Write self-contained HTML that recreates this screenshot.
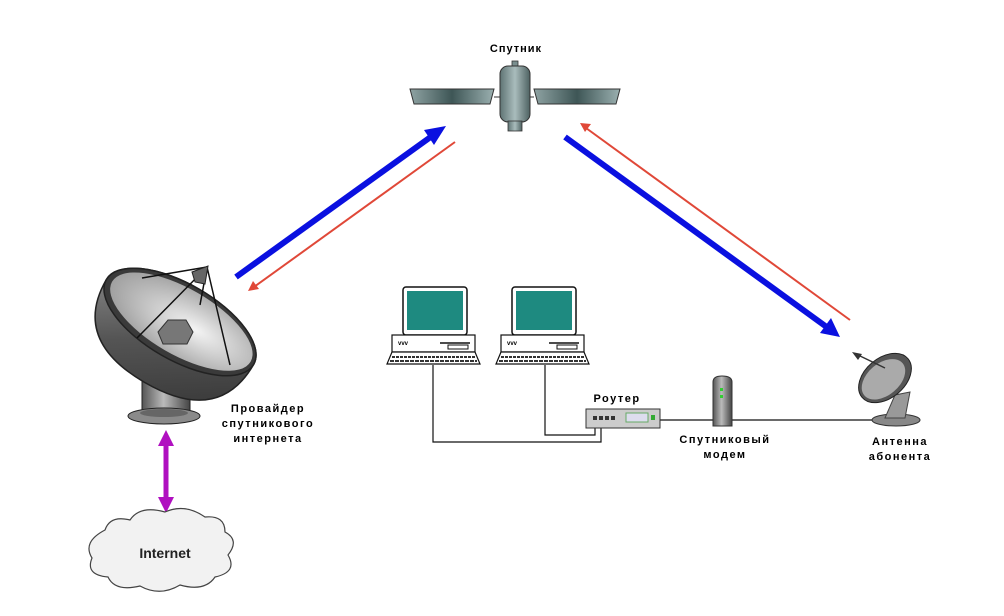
<!DOCTYPE html>
<html><head><meta charset="utf-8"><style>
html,body{margin:0;padding:0;background:#fff;}
svg{display:block;}
text{font-family:"Liberation Sans","DejaVu Sans",sans-serif;font-weight:bold;}
</style></head><body>
<svg width="1004" height="616" viewBox="0 0 1004 616" xmlns="http://www.w3.org/2000/svg">
<defs>
<linearGradient id="pan" x1="0" y1="0" x2="1" y2="0">
<stop offset="0" stop-color="#8fa3a3"/><stop offset="0.5" stop-color="#3e5656"/><stop offset="1" stop-color="#9bb0b0"/></linearGradient>
<linearGradient id="body" x1="0" y1="0" x2="1" y2="0">
<stop offset="0" stop-color="#5f7474"/><stop offset="0.5" stop-color="#a9bcbc"/><stop offset="1" stop-color="#4e6262"/></linearGradient>
<linearGradient id="metal" x1="0" y1="0" x2="1" y2="0">
<stop offset="0" stop-color="#555"/><stop offset="0.45" stop-color="#bbb"/><stop offset="1" stop-color="#444"/></linearGradient>
<linearGradient id="shell" x1="0" y1="0" x2="1" y2="1">
<stop offset="0" stop-color="#999"/><stop offset="0.5" stop-color="#555"/><stop offset="1" stop-color="#333"/></linearGradient>
<radialGradient id="dishin" cx="0.6" cy="0.5" r="0.6">
<stop offset="0" stop-color="#f4f4f4"/><stop offset="1" stop-color="#a0a0a0"/></radialGradient>
</defs>

<!-- Satellite -->
<text x="516" y="52" font-size="11" text-anchor="middle" letter-spacing="1">Спутник</text>
<polygon points="410,89 494,89 490,104 414,104" fill="url(#pan)" stroke="#333" stroke-width="1"/>
<polygon points="534,89 620,89 616,104 538,104" fill="url(#pan)" stroke="#333" stroke-width="1"/>
<line x1="494" y1="97" x2="500" y2="97" stroke="#333"/>
<line x1="528" y1="97" x2="534" y2="97" stroke="#333"/>
<rect x="512" y="61" width="6" height="6" fill="#7a8f8f" stroke="#333" stroke-width="0.8"/>
<rect x="500" y="66" width="30" height="56" rx="8" fill="url(#body)" stroke="#333"/>
<rect x="508" y="121" width="14" height="10" fill="url(#body)" stroke="#333" stroke-width="0.8"/>

<!-- Left arrows -->
<line x1="236" y1="277" x2="432" y2="136" stroke="#0a10e0" stroke-width="6"/>
<polygon points="446,126 424,130 434,145" fill="#0a10e0"/>
<line x1="455" y1="142" x2="254" y2="287" stroke="#e04838" stroke-width="2"/>
<polygon points="248,291 253,281 259,289" fill="#e04838"/>

<!-- Right arrows -->
<line x1="565" y1="137" x2="828" y2="328" stroke="#0a10e0" stroke-width="6"/>
<polygon points="840,337 820,333 831,318" fill="#0a10e0"/>
<line x1="850" y1="320" x2="586" y2="128" stroke="#e04838" stroke-width="2"/>
<polygon points="580,123 591,124 585,132" fill="#e04838"/>

<!-- Big dish -->
<rect x="142" y="372" width="48" height="42" fill="url(#metal)" stroke="#222"/>
<ellipse cx="164" cy="416" rx="36" ry="8" fill="#8a8a8a" stroke="#222"/>
<ellipse cx="164" cy="413" rx="24" ry="4" fill="#666"/>
<g transform="rotate(30 180 322)">
<path d="M95,322 A85,38 0 0 1 265,322 Q265,392 180,392 Q95,392 95,322 Z" fill="url(#shell)" stroke="#222" stroke-width="1.5"/>
<ellipse cx="180" cy="322" rx="85" ry="38" fill="#3a3a3a" stroke="#222" stroke-width="1.5"/>
<ellipse cx="181" cy="321" rx="80" ry="33" fill="url(#dishin)"/>
</g>
<polygon points="158,332 168,320 186,320 193,332 187,344 163,344" fill="#777" stroke="#333"/>
<line x1="207" y1="267" x2="137" y2="338" stroke="#111" stroke-width="1.5"/>
<line x1="207" y1="267" x2="230" y2="365" stroke="#111" stroke-width="1.5"/>
<line x1="207" y1="267" x2="142" y2="278" stroke="#111" stroke-width="1.5"/>
<line x1="207" y1="267" x2="200" y2="305" stroke="#111" stroke-width="1.5"/>
<polygon points="192,272 208,266 205,284 195,282" fill="#666" stroke="#222"/>

<text font-size="11" text-anchor="middle" letter-spacing="1.5"><tspan x="268" y="412">Провайдер</tspan><tspan x="268" y="427">спутникового</tspan><tspan x="268" y="442">интернета</tspan></text>

<!-- Magenta arrow -->
<line x1="166" y1="444" x2="166" y2="500" stroke="#b010c0" stroke-width="5"/>
<polygon points="166,430 158,446 174,446" fill="#b010c0"/>
<polygon points="166,513 158,497 174,497" fill="#b010c0"/>

<!-- Cloud -->
<path d="M105,530 Q110,515 130,520 Q140,505 165,512 Q185,503 205,517 Q225,515 225,532 Q240,540 228,555 Q238,572 215,577 Q205,592 180,585 Q160,597 140,586 Q115,592 108,577 Q85,575 92,558 Q82,542 105,530 Z" fill="#f2f2f2" stroke="#444" stroke-width="1.2"/>
<text x="165" y="558" font-size="14" text-anchor="middle" fill="#222">Internet</text>

<!-- Laptops -->
<g id="lap">
<rect x="403" y="287" width="64" height="48" rx="3" fill="#fff" stroke="#111" stroke-width="1.5"/>
<rect x="407" y="291" width="56" height="39" fill="#1e8a80"/>
<rect x="392" y="335" width="83" height="17" fill="#fff" stroke="#111" stroke-width="1.2"/>
<line x1="440" y1="343" x2="470" y2="343" stroke="#111" stroke-width="1.5"/>
<rect x="448" y="345" width="20" height="4" fill="#fff" stroke="#111" stroke-width="1"/>
<text x="398" y="345" font-size="6">vvv</text>
<path d="M392,352 L475,352 L480,364 L387,364 Z" fill="#fff" stroke="#111" stroke-width="1.2"/>
<line x1="392" y1="357" x2="475" y2="357" stroke="#333" stroke-width="2" stroke-dasharray="3,1"/>
<line x1="390" y1="361" x2="477" y2="361" stroke="#333" stroke-width="2" stroke-dasharray="4,1"/>
</g>
<use href="#lap" transform="translate(109,0)"/>

<!-- wires -->
<polyline points="433,365 433,442 601,442 601,422" fill="none" stroke="#111" stroke-width="1.2"/>
<polyline points="545,365 545,435 595,435 595,422" fill="none" stroke="#111" stroke-width="1.2"/>
<line x1="660" y1="420" x2="713" y2="420" stroke="#111" stroke-width="1.2"/>
<line x1="732" y1="420" x2="875" y2="420" stroke="#111" stroke-width="1.2"/>

<!-- Router -->
<text x="617" y="402" font-size="11" text-anchor="middle" letter-spacing="1.5">Роутер</text>
<rect x="586" y="409" width="74" height="19" fill="#ccc" stroke="#333"/>
<rect x="593" y="416" width="4" height="4" fill="#333"/><rect x="599" y="416" width="4" height="4" fill="#333"/><rect x="605" y="416" width="4" height="4" fill="#333"/><rect x="611" y="416" width="4" height="4" fill="#333"/>
<rect x="626" y="413" width="22" height="9" fill="#dde" stroke="#6a6" stroke-width="1"/>
<rect x="651" y="415" width="4" height="5" fill="#3a3"/>

<!-- Modem -->
<path d="M713,426 L713,382 Q713,376 722,376 Q732,376 732,382 L732,426 Z" fill="url(#metal)" stroke="#333"/>
<rect x="720" y="388" width="3" height="3" fill="#3c3"/><rect x="720" y="395" width="3" height="3" fill="#3c3"/>
<text font-size="11" text-anchor="middle" letter-spacing="1.5"><tspan x="725" y="443">Спутниковый</tspan><tspan x="725" y="458">модем</tspan></text>

<!-- Small dish -->
<ellipse cx="896" cy="420" rx="24" ry="6" fill="#888" stroke="#333"/>
<path d="M885,418 L895,395 L910,392 L905,418 Z" fill="#999" stroke="#444"/>
<g transform="rotate(-40 885 378)">
<ellipse cx="885" cy="378" rx="30" ry="20" fill="#555" stroke="#222"/>
<ellipse cx="883" cy="378" rx="25" ry="16" fill="#aaa"/>
</g>
<line x1="858" y1="355" x2="885" y2="368" stroke="#333" stroke-width="1.5"/>
<polygon points="852,352 862,354 858,360" fill="#333"/>
<text font-size="11" text-anchor="middle" letter-spacing="1.5"><tspan x="900" y="445">Антенна</tspan><tspan x="900" y="460">абонента</tspan></text>
</svg>
</body></html>
